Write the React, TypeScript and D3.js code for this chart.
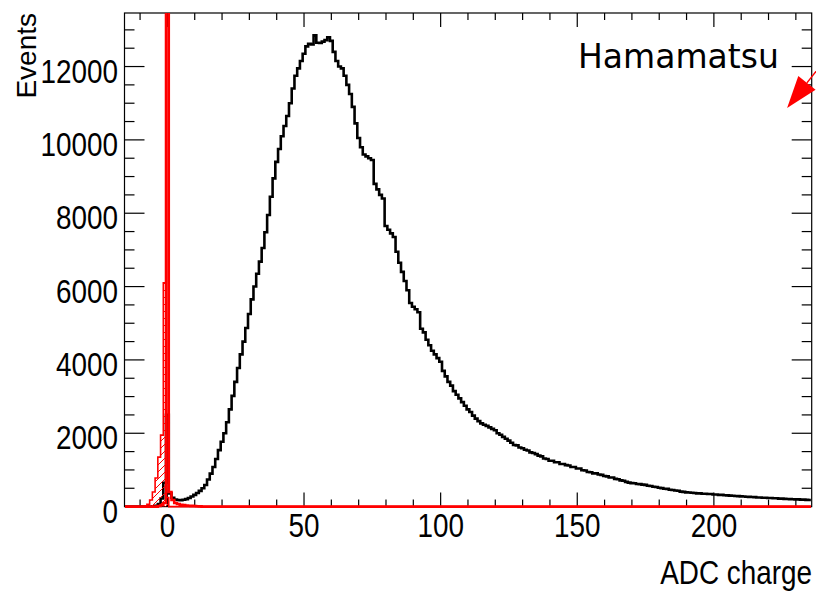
import React, { useRef, useEffect } from "react";
import * as d3 from "d3";

// black histogram, 1 ADC wide bins starting at bin -15
const firstBin = -15;
const adcCounts = [
  0, 0, 0, 0, 0, 0, 0, 0, 0, 0, // -15
  5, 20, 70, 220, 650, 2500, 360, 240, 195, 180, // -5
  175, 185, 205, 235, 275, 320, 370, 430, 500, 590, // 5
  740, 900, 1080, 1300, 1540, 1770, 2000, 2300, 2650, 3020, // 15
  3400, 3780, 4150, 4500, 4870, 5250, 5650, 6000, 6350, 6680, // 25
  7050, 7480, 7950, 8450, 8950, 9400, 9750, 10100, 10380, 10650, // 35
  11000, 11400, 11750, 11950, 12150, 12350, 12550, 12620, 12600, 12850, // 45
  12650, 12640, 12680, 12720, 12800, 12700, 12400, 12150, 12000, 11950, // 55
  11750, 11500, 11250, 10900, 10450, 10050, 9800, 9600, 9550, 9500, // 65
  9450, 8800, 8650, 8500, 8400, 7650, 7550, 7450, 7350, 6950, // 75
  6650, 6400, 6150, 5900, 5550, 5450, 5380, 5300, 4850, 4750, // 85
  4550, 4400, 4250, 4150, 4050, 3950, 3700, 3550, 3400, 3300, // 95
  3150, 3050, 2950, 2850, 2750, 2650, 2580, 2480, 2400, 2330, // 105
  2270, 2230, 2200, 2160, 2120, 2080, 2000, 1960, 1900, 1850, // 115
  1800, 1740, 1680, 1670, 1610, 1590, 1550, 1530, 1480, 1460, // 125
  1430, 1390, 1370, 1310, 1300, 1250, 1250, 1210, 1210, 1160, // 135
  1160, 1130, 1120, 1080, 1080, 1040, 1040, 990, 985, 945, // 145
  935, 905, 905, 875, 865, 835, 825, 795, 795, 755, // 155
  745, 715, 705, 675, 655, 640, 635, 615, 612, 598, // 165
  592, 568, 562, 540, 535, 515, 505, 485, 482, 458, // 175
  452, 438, 432, 408, 402, 388, 386, 378, 372, 362, // 185
  362, 352, 352, 342, 342, 332, 332, 318, 320, 308, // 195
  306, 298, 296, 288, 286, 280, 276, 270, 266, 260, // 205
  258, 250, 250, 243, 241, 234, 233, 226, 226, 218, // 215
  217, 210, 209, 203, 201, 196, 196, 190, 189, 184, // 225
  182, // 235
];

// red hatched histogram
const hatchFirstBin = -8;
const hatchCounts = [15, 60, 180, 400, 780, 1350, 1950, 6100, 250];

// red thick pedestal histogram (bin 0 runs off the top)
const pedFirstBin = -3;
const pedCounts = [15, 40, 100, 100000, 400, 180, 100, 70, 50, 40, 30, 25, 20, 15, 10, 5];

const xMajorTicks = [0, 50, 100, 150, 200];
const yMajorTicks = [0, 2000, 4000, 6000, 8000, 10000, 12000];
const xMinorStep = 10;
const yMinorStep = 500;

const xTitle = "ADC charge";
const yTitle = "Events";
const tagText = "Hamamatsu";
const arrowStart = [239.3, 12050];
const arrowEnd = [226.8, 10870];

const App = () => {
  const svgRef = useRef(null);

  useEffect(() => {
    const width = 816;
    const height = 593;
    const margin = { top: 13, right: 4.3, bottom: 86.4, left: 124.5 };

    const svg = d3.select(svgRef.current);
    svg.selectAll("*").remove();

    const x = d3
      .scaleLinear()
      .domain([-15.7, 235.8])
      .range([margin.left, width - margin.right]);
    const y = d3
      .scaleLinear()
      .domain([0, 13460])
      .range([height - margin.bottom, margin.top]);

    const left = margin.left;
    const right = width - margin.right;
    const top = margin.top;
    const bottom = height - margin.bottom;

    const defs = svg.append("defs");
    defs
      .append("clipPath")
      .attr("id", "frame-clip")
      .append("rect")
      .attr("x", left)
      .attr("y", top)
      .attr("width", right - left)
      .attr("height", bottom - top + 3);

    const pattern = defs
      .append("pattern")
      .attr("id", "hatch")
      .attr("patternUnits", "userSpaceOnUse")
      .attr("width", 7)
      .attr("height", 7);
    pattern
      .append("path")
      .attr("d", "M-1,8 L8,-1 M-1,1 L1,-1 M6,8 L8,6")
      .attr("stroke", "red")
      .attr("stroke-width", 1);

    // frame + ticks
    svg
      .append("rect")
      .attr("x", left)
      .attr("y", top)
      .attr("width", right - left)
      .attr("height", bottom - top)
      .attr("fill", "none")
      .attr("stroke", "black")
      .attr("stroke-width", 1.2);

    const ticks = svg.append("g").attr("stroke", "black").attr("stroke-width", 1.2);
    const xMinor = d3.range(-10, 236, xMinorStep);
    xMinor.forEach((v) => {
      const len = xMajorTicks.includes(v) ? 14 : 7;
      ticks.append("line").attr("x1", x(v)).attr("x2", x(v)).attr("y1", bottom).attr("y2", bottom - len);
      ticks.append("line").attr("x1", x(v)).attr("x2", x(v)).attr("y1", top).attr("y2", top + len);
    });
    const yMinor = d3.range(0, 13460, yMinorStep);
    yMinor.forEach((v) => {
      const len = yMajorTicks.includes(v) ? 20 : 10;
      ticks.append("line").attr("x1", left).attr("x2", left + len).attr("y1", y(v)).attr("y2", y(v));
      ticks.append("line").attr("x1", right).attr("x2", right - len).attr("y1", y(v)).attr("y2", y(v));
    });

    // tick labels (narrow helvetica look)
    const labelFont = "'Liberation Sans', Arial, sans-serif";
    yMajorTicks.forEach((v) => {
      svg
        .append("g")
        .attr("transform", `translate(118,${y(v) + 16}) scale(0.82,1)`)
        .append("text")
        .attr("text-anchor", "end")
        .style("font-family", labelFont)
        .style("font-size", "34px")
        .text(v);
    });
    xMajorTicks.forEach((v) => {
      svg
        .append("g")
        .attr("transform", `translate(${x(v)},537) scale(0.82,1)`)
        .append("text")
        .attr("text-anchor", "middle")
        .style("font-family", labelFont)
        .style("font-size", "34px")
        .text(v);
    });

    svg
      .append("g")
      .attr("transform", `translate(812,584) scale(0.82,1)`)
      .append("text")
      .attr("text-anchor", "end")
      .style("font-family", labelFont)
      .style("font-size", "34px")
      .text(xTitle);

    svg
      .append("text")
      .attr("transform", "translate(36,13) rotate(-90)")
      .attr("text-anchor", "end")
      .style("font-family", labelFont)
      .style("font-size", "28px")
      .text(yTitle);

    // histograms
    const bins = d3.range(firstBin, firstBin + adcCounts.length);
    const spread = (first, counts) => bins.map((b) => counts[b - first] ?? 0);
    const hatchFull = spread(hatchFirstBin, hatchCounts);
    const pedFull = spread(pedFirstBin, pedCounts);

    const toPoints = (counts) => {
      const pts = counts.map((c, i) => [x(bins[i] - 0.5), y(c)]);
      pts.push([x(bins[bins.length - 1] + 0.5), y(counts[counts.length - 1])]);
      return pts;
    };
    const step = d3.line().curve(d3.curveStepAfter);
    const stepArea = d3
      .area()
      .x((d) => d[0])
      .y0(y(0))
      .y1((d) => d[1])
      .curve(d3.curveStepAfter);

    const plot = svg.append("g").attr("clip-path", "url(#frame-clip)");

    plot
      .append("path")
      .attr("d", step(toPoints(adcCounts)))
      .attr("fill", "none")
      .attr("stroke", "black")
      .attr("stroke-width", 2.6);

    plot
      .append("path")
      .attr("d", stepArea(toPoints(hatchFull)))
      .attr("fill", "url(#hatch)")
      .attr("stroke", "none");
    plot
      .append("path")
      .attr("d", step(toPoints(hatchFull)))
      .attr("fill", "none")
      .attr("stroke", "red")
      .attr("stroke-width", 1.6);

    plot
      .append("path")
      .attr("d", step(toPoints(pedFull)))
      .attr("fill", "none")
      .attr("stroke", "red")
      .attr("stroke-width", 2.6);

    // label + arrow
    svg
      .append("text")
      .attr("x", 578)
      .attr("y", 68)
      .style("font-family", "'DejaVu Sans', sans-serif")
      .style("font-size", "33px")
      .text(tagText);

    const ax0 = x(arrowStart[0]);
    const ay0 = y(arrowStart[1]);
    const ax1 = x(arrowEnd[0]);
    const ay1 = y(arrowEnd[1]);
    const ang = Math.atan2(ay1 - ay0, ax1 - ax0);
    const headLen = 32;
    const headHalf = 11;
    const bx = ax1 - headLen * Math.cos(ang);
    const by = ay1 - headLen * Math.sin(ang);
    svg
      .append("line")
      .attr("x1", ax0)
      .attr("y1", ay0)
      .attr("x2", bx)
      .attr("y2", by)
      .attr("stroke", "red")
      .attr("stroke-width", 1.5);
    svg
      .append("polygon")
      .attr(
        "points",
        [
          [ax1, ay1],
          [bx + headHalf * Math.sin(ang), by - headHalf * Math.cos(ang)],
          [bx - headHalf * Math.sin(ang), by + headHalf * Math.cos(ang)],
        ]
          .map((p) => p.join(","))
          .join(" ")
      )
      .attr("fill", "red");
  }, []);

  return (
    <svg
      ref={svgRef}
      width={816}
      height={593}
      style={{ position: "absolute", left: 0, top: 0, background: "white" }}
    ></svg>
  );
};

export default App;
